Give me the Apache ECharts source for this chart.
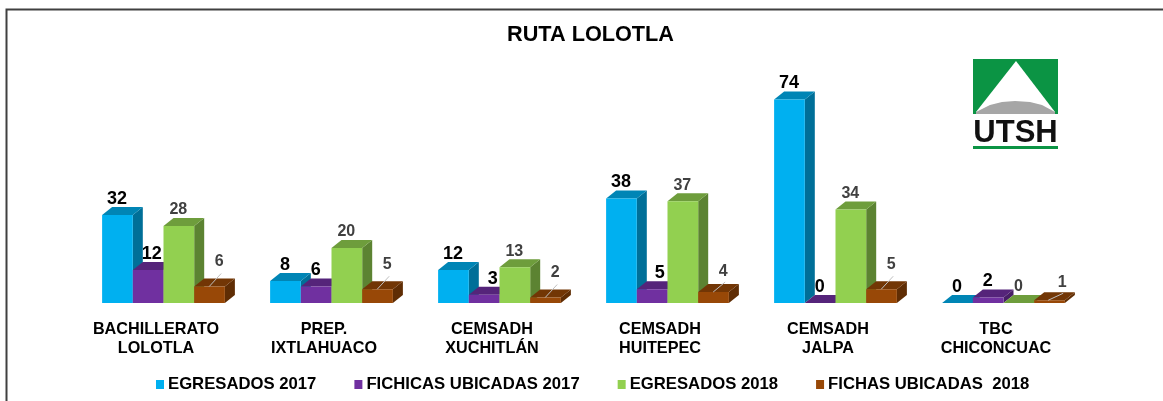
<!DOCTYPE html>
<html><head><meta charset="utf-8">
<style>html,body{margin:0;padding:0;background:#fff}#c{width:1163px;height:401px}</style>
<script src="https://cdn.jsdelivr.net/npm/echarts@6/dist/echarts.min.js"></script>
</head><body><div id="c"></div>
<script>
const categories = ['BACHILLERATO\nLOLOTLA','PREP.\nIXTLAHUACO','CEMSADH\nXUCHITLÁN','CEMSADH\nHUITEPEC','CEMSADH\nJALPA','TBC\nCHICONCUAC'];
const egresados2017 = [32,8,12,38,74,0];
const fichicas2017 = [12,6,3,5,0,2];
const egresados2018 = [28,20,13,37,34,0];
const fichas2018 = [6,5,2,4,5,1];
const seriesNames = ['EGRESADOS 2017','FICHICAS UBICADAS 2017','EGRESADOS 2018','FICHAS UBICADAS  2018'];
const seriesValues = [egresados2017,fichicas2017,egresados2018,fichas2018];
const frontColors = ['#00B0F0','#7030A0','#92D050','#984807'];
const topColors = ['#0085B5','#55247A','#6E9D3C','#723605'];
const sideColors = ['#006F98','#471E66','#5C8332','#5F2D04'];
const labelColors = ['#000','#000','#404040','#404040'];
const purpleLabelShift = [4,0,9,8,0,0];
const depthX = 10, depthY = 8;

function makeRender(s){
  return function(params, api){
    const idx = api.value(0);
    const v = api.value(1);
    const cat = api.coord([idx, 0]);
    const top = api.coord([idx, v]);
    const band = api.size([1, 0])[0];
    const w = band * 0.1827;
    const x0 = cat[0] - 2 * w + s * w;
    const x1 = x0 + w;
    const yb = cat[1], yt = top[1];
    const kids = [];
    kids.push({type:'polygon',shape:{points:[[x1,yb],[x1+depthX,yb-depthY],[x1+depthX,yt-depthY],[x1,yt]]},style:{fill:sideColors[s]}});
    kids.push({type:'polygon',shape:{points:[[x0,yt],[x0+depthX,yt-depthY],[x1+depthX,yt-depthY],[x1,yt]]},style:{fill:topColors[s]}});
    kids.push({type:'rect',shape:{x:x0,y:yt,width:w,height:yb-yt},style:{fill:frontColors[s]}});
    let lx = x0 + w/2 - 0.5, ly = yt - 16;
    if (s === 1) lx += purpleLabelShift[idx];
    if (s === 3) {
      if (v <= 1) {
        lx = x0 + 28; ly = yt - 18;
        kids.push({type:'line',shape:{x1:x0+14,y1:yt,x2:x0+29,y2:yt-7},style:{stroke:'#BFBFBF',lineWidth:1}});
      } else {
        lx = x0 + 25; ly = yt - 25 + (v === 4 ? 5 : 0);
        kids.push({type:'line',shape:{x1:x0+15,y1:yt,x2:x0+27,y2:yt-13 + (v === 4 ? 3 : 0)},style:{stroke:'#BFBFBF',lineWidth:1}});
      }
    }
    kids.push({type:'text',style:{text:String(v),x:lx,y:ly,align:'center',verticalAlign:'middle',fill:labelColors[s],
      font:(s<2?'bold 18px':'bold 16px')+' "Liberation Sans"'}});
    return {type:'group',children:kids};
  };
}

const chart = echarts.init(document.getElementById('c'),null,{renderer:'canvas'});
chart.setOption({
  animation:false,
  backgroundColor:'#fff',
  title:{text:'RUTA LOLOTLA',left:585.5,top:19,textAlign:'center',textStyle:{fontFamily:'Liberation Sans',fontWeight:'bold',fontSize:21.7,color:'#000'}},
  grid:{left:79.5,width:1008,top:83,height:220},
  xAxis:{type:'category',data:categories,axisLine:{show:false},axisTick:{show:false},
    axisLabel:{interval:0,margin:17,lineHeight:19,padding:[0,15,0,0],fontFamily:'Liberation Sans',fontWeight:'bold',fontSize:16.2,color:'#000'}},
  yAxis:{type:'value',min:0,max:80,show:false},
  legend:{left:151,top:371,itemWidth:8,itemHeight:9,itemGap:38,icon:'rect',
    textStyle:{fontFamily:'Liberation Sans',fontWeight:'bold',fontSize:16.7,color:'#000',padding:[0,0,0,-1]},
    data:seriesNames},
  series:seriesValues.map((vals,s)=>({
    name:seriesNames[s],type:'custom',renderItem:makeRender(s),
    itemStyle:{color:frontColors[s]},
    encode:{x:0,y:1},clip:false,
    data:vals.map((v,i)=>[i,v])
  })),
  graphic:[
    {type:'polyline',shape:{points:[[6.5,401],[6.5,9.5],[1163,9.5]]},style:{stroke:'#404040',fill:null,lineWidth:2},silent:true},
    {type:'rect',shape:{x:973,y:59,width:85,height:55},style:{fill:'#0B9444'},silent:true},
    {type:'polygon',shape:{points:[[1016,61],[1055,112],[976,112]]},style:{fill:'#fff'},silent:true},
    {type:'polygon',shape:{points:[[976,112],[990,105],[1002,102],[1015,101],[1030,102],[1042,105],[1055,112],[1055,114],[976,114]]},style:{fill:'#A6A6A6'},silent:true},
    {type:'text',style:{text:'UTSH',x:1015.5,y:133,align:'center',verticalAlign:'middle',fill:'#111',font:'bold 31px "Liberation Sans"'},silent:true},
    {type:'rect',shape:{x:973,y:146,width:85,height:3},style:{fill:'#0B9444'},silent:true}
  ]
});
</script></body></html>
